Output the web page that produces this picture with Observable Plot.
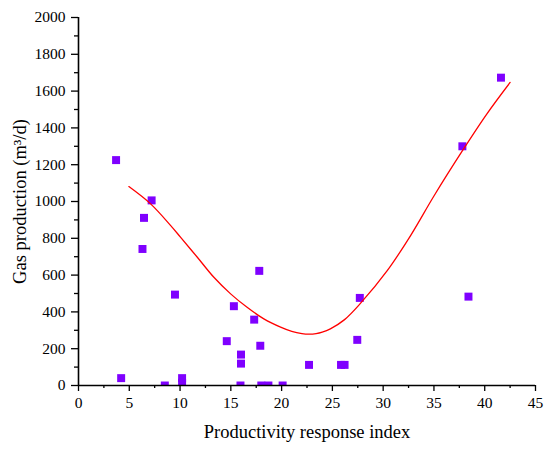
<!DOCTYPE html>
<html>
<head>
<meta charset="utf-8">
<script src="https://cdn.jsdelivr.net/npm/d3@7"></script>
<script src="https://cdn.jsdelivr.net/npm/@observablehq/plot@0.6"></script>
<style>
  html, body { margin: 0; padding: 0; background: #fff; }
  #chart svg { display: block; }
  #chart svg text { font-family: "Liberation Serif", "Times New Roman", serif !important; font-variant: normal !important; }
</style>
</head>
<body>
<div id="chart"></div>
<script>
// Measured points
const pointX = [3.7, 4.2, 7.2, 6.45, 6.3, 9.5, 8.5, 10.2, 10.2, 15.3, 17.3, 17.8, 14.6, 17.9, 16.0, 16.0, 15.95, 18.0, 18.7, 20.1, 22.7, 25.85, 26.2, 27.45, 27.7, 38.4, 37.8, 41.6];
const pointY = [1225, 40, 1006, 911, 742, 494, 0, 40, 15, 431, 358, 623, 241, 216, 168, 119, 0, 0, 0, 0, 112, 112, 112, 248, 476, 483, 1300, 1673];

// Fitted curve
const curveX = [4.96, 7.1, 9.08, 10.06, 11.7, 13.33, 14.98, 16.6, 18.25, 19.9, 21.0, 22.0, 22.7, 23.4, 24.0, 24.8, 26.2, 27.76, 30.4, 32.7, 35.0, 37.76, 40.2, 42.5];
const curveY = [1081, 987, 869, 805, 697, 588, 498, 425, 362, 317, 294, 282, 279, 282, 290, 308, 358, 446, 624, 815, 1030, 1272, 1475, 1647];

const xMajor = d3.range(0, 46, 5);
const xMinor = d3.range(2.5, 45, 5);
const yMajor = d3.range(0, 2001, 200);
const yMinor = d3.range(100, 2000, 200);

const xTitle = "Productivity response index";
const yTitle = "Gas production (m\u00B3/d)";

const points = pointX.map((x, i) => ({x, y: pointY[i]}));
const curve = curveX.map((x, i) => ({x, y: curveY[i]}));

const font = "Liberation Serif, Times New Roman, serif";

const chart = Plot.plot({
  width: 550,
  height: 453,
  marginLeft: 78,
  marginRight: 15,
  marginTop: 17,
  marginBottom: 68,
  style: {fontFamily: font, fontSize: "15px", color: "#000", background: "#fff"},
  x: {domain: [0, 45]},
  y: {domain: [0, 2000]},
  marks: [
    Plot.dot(points, {x: "x", y: "y", symbol: "square", r: 4.5, fill: "#7f00ff", stroke: "none", clip: true}),
    Plot.line(curve, {x: "x", y: "y", stroke: "#ff0000", strokeWidth: 1.3, curve: "catmull-rom"}),
    Plot.axisX({ticks: xMajor, tickSize: 6, tickPadding: 5, tickFormat: "d", label: null, fontSize: 15.5, fontFamily: font, fontVariant: "normal", fill: "#000", stroke: "#000", strokeWidth: 1.3}),
    Plot.axisX({ticks: xMinor, tickSize: 3, text: null, label: null, stroke: "#000", strokeWidth: 1.3}),
    Plot.axisY({ticks: yMajor, tickSize: 7, tickPadding: 6, tickFormat: "d", label: null, fontSize: 15.5, fontFamily: font, fontVariant: "normal", fill: "#000", stroke: "#000", strokeWidth: 1.3}),
    Plot.axisY({ticks: yMinor, tickSize: 4, text: null, label: null, stroke: "#000", strokeWidth: 1.3}),
    Plot.ruleY([0], {stroke: "#000", strokeWidth: 1.6}),
    Plot.ruleX([0], {stroke: "#000", strokeWidth: 1.6}),
    Plot.text([xTitle], {frameAnchor: "bottom", dy: 52, fontSize: 18.5, fontFamily: font, fill: "#000", textAnchor: "middle", lineAnchor: "bottom"}),
    Plot.text([yTitle], {frameAnchor: "left", dx: -58, rotate: -90, fontSize: 18.5, fontFamily: font, fill: "#000", textAnchor: "middle", lineAnchor: "middle"})
  ]
});
document.getElementById("chart").appendChild(chart);
</script>
</body>
</html>
